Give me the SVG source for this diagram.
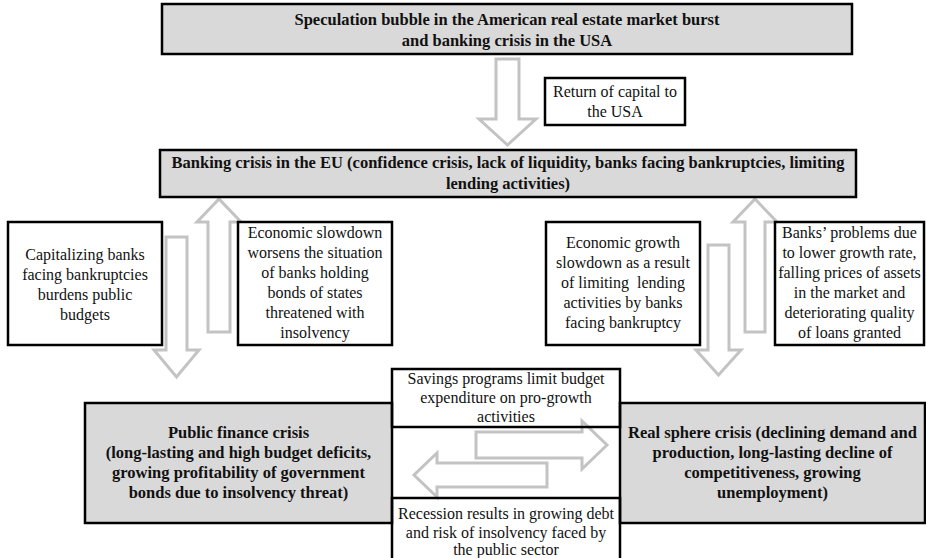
<svg xmlns="http://www.w3.org/2000/svg" width="926" height="558" viewBox="0 0 926 558">
<style>
.gbox{fill:#d9d9d9;stroke:#000;stroke-width:2.5}
.wbox{fill:#fff;stroke:#000;stroke-width:2.5}
.open{fill:none;stroke:#000;stroke-width:2.5}
.arr{fill:#fff;stroke:#c3c3c3;stroke-width:3;stroke-linejoin:miter}
.b{font-family:"Liberation Serif","Times New Roman",serif;font-weight:bold;font-size:16.5px;fill:#111;text-anchor:middle}
.r{font-family:"Liberation Serif","Times New Roman",serif;font-size:16px;fill:#111;text-anchor:middle}
</style>
<rect width="926" height="558" fill="#fff"/>
<g id="connectors">
<path class="arr" d="M496,59 H519 V119 H536 L507.5,145 L479,119 H496 Z"/>
<path class="arr" d="M166,237 H187 V350 H199 L176.5,377 L154,350 H166 Z"/>
<path class="arr" d="M208,332 V222 H197 L219,199 L241,222 H230 V332 Z"/>
<path class="arr" d="M708,245 H729 V350 H741 L718.5,375 L696,350 H708 Z"/>
<path class="arr" d="M745,332 V222 H733 L755,199 L777,222 H765 V332 Z"/>
<path class="arr" d="M476,432 H582 V421 L607,445 L582,469 V458 H476 Z"/>
<path class="arr" d="M547,463 H437 V453 L414,475 L437,497 V487 H547 Z"/>
</g>
<g id="n-top">
<rect class="gbox" x="162" y="4" width="690" height="50"/>
<text class="b" x="507" y="25">Speculation bubble in the American real estate market burst</text>
<text class="b" x="507" y="46">and banking crisis in the USA</text>
</g>
<g id="n-return">
<rect class="wbox" x="545" y="78" width="140" height="47"/>
<text class="r" x="615" y="97">Return of capital to</text>
<text class="r" x="615" y="117">the USA</text>
</g>
<g id="n-banking">
<rect class="gbox" x="160" y="150" width="696" height="47"/>
<text class="b" x="508" y="168">Banking crisis in the EU (confidence crisis, lack of liquidity, banks facing bankruptcies, limiting</text>
<text class="b" x="508" y="189">lending activities)</text>
</g>
<g id="n-capitalizing">
<rect class="wbox" x="8" y="222" width="154" height="123"/>
<text class="r" x="85" y="260">Capitalizing banks</text>
<text class="r" x="85" y="280">facing bankruptcies</text>
<text class="r" x="85" y="300">burdens public</text>
<text class="r" x="85" y="320">budgets</text>
</g>
<g id="n-slowdown">
<rect class="wbox" x="238" y="222" width="154" height="123"/>
<text class="r" x="315" y="238">Economic slowdown</text>
<text class="r" x="315" y="258">worsens the situation</text>
<text class="r" x="315" y="278">of banks holding</text>
<text class="r" x="315" y="298">bonds of states</text>
<text class="r" x="315" y="318">threatened with</text>
<text class="r" x="315" y="338">insolvency</text>
</g>
<g id="n-growth">
<rect class="wbox" x="546" y="222" width="154" height="123"/>
<text class="r" x="623" y="248">Economic growth</text>
<text class="r" x="623" y="268">slowdown as a result</text>
<text class="r" x="623" y="288" xml:space="preserve">of limiting  lending</text>
<text class="r" x="623" y="308">activities by banks</text>
<text class="r" x="623" y="328">facing bankruptcy</text>
</g>
<g id="n-banks">
<rect class="wbox" x="775" y="222" width="149" height="123"/>
<text class="r" x="849.5" y="238">Banks’ problems due</text>
<text class="r" x="849.5" y="258">to lower growth rate,</text>
<text class="r" x="849.5" y="278">falling prices of assets</text>
<text class="r" x="849.5" y="298">in the market and</text>
<text class="r" x="849.5" y="318">deteriorating quality</text>
<text class="r" x="849.5" y="338">of loans granted</text>
</g>
<g id="n-public">
<rect class="gbox" x="85" y="403" width="307" height="120"/>
<text class="b" x="238.5" y="438">Public finance crisis</text>
<text class="b" x="238.5" y="458">(long-lasting and high budget deficits,</text>
<text class="b" x="238.5" y="478">growing profitability of government</text>
<text class="b" x="238.5" y="498">bonds due to insolvency threat)</text>
</g>
<g id="n-real">
<rect class="gbox" x="620" y="403" width="305" height="120"/>
<text class="b" x="772.5" y="438">Real sphere crisis (declining demand and</text>
<text class="b" x="772.5" y="458">production, long-lasting decline of</text>
<text class="b" x="772.5" y="478">competitiveness, growing</text>
<text class="b" x="772.5" y="498">unemployment)</text>
</g>
<g id="n-savings">
<rect class="open" x="392" y="369" width="228" height="58"/>
<text class="r" x="506" y="384">Savings programs limit budget</text>
<text class="r" x="506" y="403">expenditure on pro-growth</text>
<text class="r" x="506" y="422">activities</text>
</g>
<g id="n-recession">
<rect class="open" x="392" y="498" width="228" height="64"/>
<text class="r" x="506" y="519">Recession results in growing debt</text>
<text class="r" x="506" y="538">and risk of insolvency faced by</text>
<text class="r" x="506" y="555">the public sector</text>
</g>
</svg>
